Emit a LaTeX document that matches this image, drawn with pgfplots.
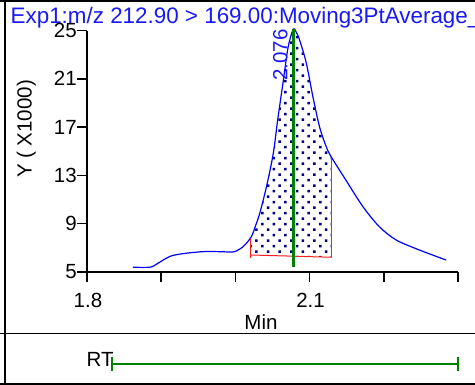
\documentclass[border=0pt]{standalone}
\usepackage{pgfplots}
\pgfplotsset{compat=1.18}
\usetikzlibrary{patterns}
\usepackage{fontspec}
\setmainfont{Liberation Sans}
\definecolor{curveblue}{RGB}{0,0,255}
\definecolor{titleblue}{RGB}{25,25,245}
\definecolor{dotnavy}{RGB}{0,0,128}
\definecolor{rtgreen}{RGB}{0,128,0}
\definecolor{redline}{RGB}{255,30,30}
\pgfdeclarepatternformonly{chromdots}{\pgfqpoint{-1pt}{-1pt}}{\pgfqpoint{12.6pt}{12pt}}{\pgfqpoint{11.6pt}{11pt}}{%
  \pgfpathrectangle{\pgfqpoint{0pt}{0pt}}{\pgfqpoint{2.5pt}{2.5pt}}%
  \pgfpathrectangle{\pgfqpoint{5.8pt}{5.5pt}}{\pgfqpoint{2.5pt}{2.5pt}}%
  \pgfusepath{fill}%
}
\newcommand{\fs}{\fontsize{20.5pt}{24pt}\selectfont}
\begin{document}
\begin{tikzpicture}
\useasboundingbox (0pt,0pt) rectangle (475pt,-385pt);
\clip (0pt,0pt) rectangle (475pt,-385pt);
\fill[white] (0pt,0pt) rectangle (475pt,-385pt);
% frame
\draw[black, line width=2.5pt] (0pt,-0.5pt) -- (475pt,-0.5pt);
\draw[black, line width=2pt] (5.3pt,0pt) -- (5.3pt,-385pt);
\draw[black, line width=1.6pt] (0pt,-333.5pt) -- (475pt,-333.5pt);
\draw[black, line width=2.5pt] (0pt,-384.5pt) -- (475pt,-384.5pt);
% texts
\node[anchor=base west, inner sep=0pt, text=titleblue, font=\fontsize{22.4pt}{26pt}\selectfont] at (10.5pt,-24pt) {Exp1:m/z 212.90 > 169.00:Moving3PtAverage\_x};
\node[rotate=90, anchor=base, inner sep=0pt, font=\fs] at (31.5pt,-129pt) {Y ( X1000)};
\node[anchor=base, inner sep=0pt, font=\fs] at (261pt,-330pt) {Min};
\node[anchor=base west, inner sep=0pt, font=\fs] at (86.5pt,-367pt) {RT};
\begin{axis}[
  at={(87pt,-272pt)}, anchor=south west,
  scale only axis, width=371pt, height=241.5pt,
  xmin=1.8, xmax=2.3, ymin=5, ymax=25,
  axis x line*=bottom, axis y line*=left,
  axis line style={-, line width=1.5pt, black},
  tick align=outside, major tick length=10pt,
  tick style={line width=1.5pt, black},
  xtick={1.8,1.9,2.0,2.1,2.2,2.3}, xticklabels={1.8,,,2.1,,},
  ytick={5,9,13,17,21,25}, yticklabels={5,9,13,17,21,25},
  ticklabel style={font=\fs, inner sep=0pt},
  xticklabel style={anchor=north, yshift=-11pt, xshift=1pt},
  yticklabel style={anchor=east},
  clip=false,
]
% integrated area (dotted)
\addplot[draw=none, pattern=chromdots, pattern color=dotnavy] coordinates {
(2.0197,6.41) (2.0197,7.75) (2.0216,7.93) (2.027,8.8) (2.033,9.9) (2.042,12.1)
(2.051,14.8) (2.057,17.6) (2.064,20.6) (2.071,23.6) (2.078,25.1) (2.0825,24.8)
(2.0866,24.2) (2.0956,22.3) (2.1045,19.5) (2.1135,17.0) (2.1224,15.38) (2.1297,14.45)
(2.1297,6.22)
} -- cycle;
\addplot[curveblue, line width=1.2pt, smooth, tension=0.5] coordinates {
(1.862,5.40) (1.875,5.38) (1.887,5.42) (1.895,5.7) (1.903,6.0) (1.912,6.3)
(1.922,6.45) (1.940,6.6) (1.961,6.7) (1.980,6.68) (1.997,6.66) (2.0036,6.82)
(2.0095,7.05) (2.0148,7.38) (2.0216,7.93) (2.027,8.8) (2.033,9.9) (2.042,12.1)
(2.051,14.8) (2.057,17.6) (2.064,20.6) (2.071,23.6) (2.078,25.1) (2.0825,24.8)
(2.0866,24.2) (2.0956,22.3) (2.1045,19.5) (2.1135,17.0) (2.1224,15.38) (2.129,14.55)
(2.149,12.6) (2.172,10.4) (2.194,8.75) (2.2167,7.65) (2.248,6.82) (2.284,5.99)
};
% integration baseline and limits
\addplot[redline, line width=1pt] coordinates {(2.0197,6.41) (2.1297,6.22)};
\addplot[redline, line width=1pt] coordinates {(2.0197,7.75) (2.0197,6.16)};
\addplot[redline, line width=1pt] coordinates {(2.1297,14.45) (2.1297,6.22)};
% retention time marker
\addplot[rtgreen, line width=3pt] coordinates {(2.078,25.1) (2.078,5.44)};
\node[rotate=90, anchor=base east, inner sep=0pt, text=titleblue, font=\fs] at ([xshift=-5.8pt]axis cs:2.078,25.1) {2.076};
% RT range bar
\addplot[rtgreen, line width=2.5pt] coordinates {(1.8336,-2.62) (2.3,-2.62)};
\addplot[rtgreen, line width=2pt] coordinates {(1.8336,-2.04) (1.8336,-3.2)};
\addplot[rtgreen, line width=2pt] coordinates {(2.3,-2.04) (2.3,-3.2)};
\end{axis}
\end{tikzpicture}
\end{document}
